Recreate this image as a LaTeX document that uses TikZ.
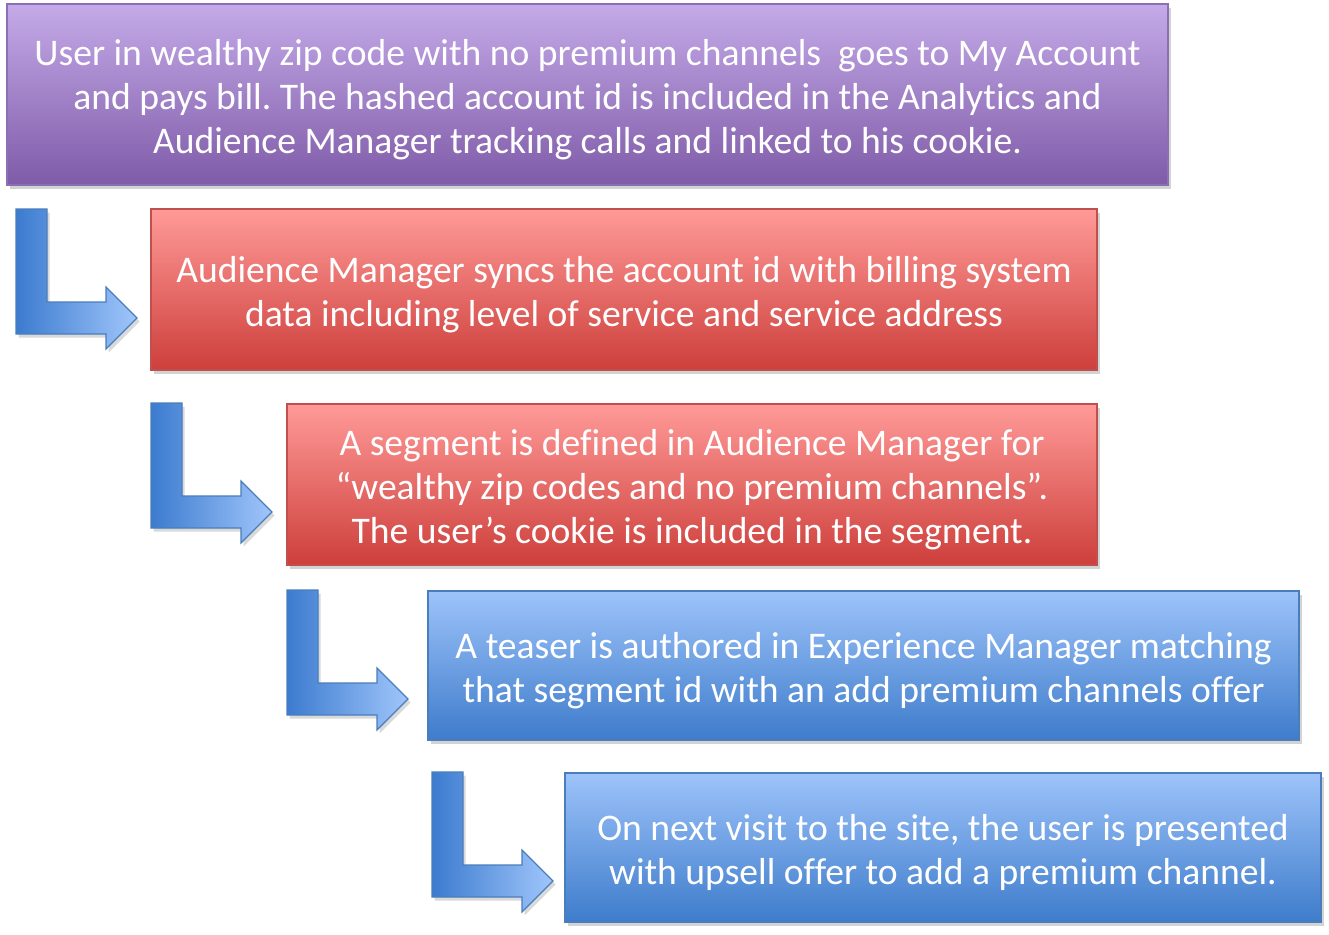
\documentclass[tikz,border=0pt]{standalone}
\usepackage{fontspec}
\setmainfont{Carlito}[Ligatures=NoCommon]
\usetikzlibrary{shadows}
\frenchspacing

\definecolor{purpletop}{HTML}{C4AAE8}
\definecolor{purplebot}{HTML}{7F5BA8}
\definecolor{purpleline}{HTML}{8B6FB5}
\definecolor{redtop}{HTML}{FF9A98}
\definecolor{redbot}{HTML}{CD3F3B}
\definecolor{redline}{HTML}{C0504D}
\definecolor{bluetop}{HTML}{9DC3FA}
\definecolor{bluebot}{HTML}{3E7CCB}
\definecolor{blueline}{HTML}{4A7EBB}
\definecolor{arrowdark}{HTML}{3C7BCF}
\definecolor{arrowlight}{HTML}{A0C6FB}

\newcommand{\padtop}{\rule{0pt}{21pt}}

\tikzset{
  stepbox/.style={draw,line width=0.8pt,text=white,align=center,
    font=\fontsize{21.4}{25}\selectfont,inner sep=0pt,
    drop shadow={shadow xshift=1.5pt,shadow yshift=-2pt,opacity=0.35}},
  purplebox/.style={stepbox,draw=purpleline,top color=purpletop,bottom color=purplebot},
  redbox/.style={stepbox,draw=redline,top color=redtop,bottom color=redbot},
  bluebox/.style={stepbox,draw=blueline,top color=bluetop,bottom color=bluebot},
  bent/.pic={
    \path [draw=blueline,line width=0.7pt,left color=arrowdark,right color=arrowlight,
      drop shadow={shadow xshift=1.5pt,shadow yshift=-2pt,opacity=0.3}]
      (0,0) -- (31,0) -- (31,93) -- (90,93) -- (90,78) -- (121,109)
      -- (90,140) -- (90,125) -- (0,125) -- cycle;
  }
}

\begin{document}
\begin{tikzpicture}[x=0.02cm,y=-0.02cm]

\useasboundingbox (0,0) rectangle (1329,934);

\node[purplebox,minimum width=23.22cm,minimum height=3.62cm] (login) at (587.5,94.5)
  {\padtop User in wealthy zip code with no premium channels\ \ goes to My Account\\
   and pays bill. The hashed account id is included in the Analytics and\\
   Audience Manager tracking calls and linked to his cookie.};

\node[redbox,minimum width=18.92cm,minimum height=3.22cm] (sync) at (624,289.5)
  {\padtop Audience Manager syncs the account id with billing system\\
   data including level of service and service address};

\node[redbox,minimum width=16.2cm,minimum height=3.22cm] (segment) at (692,484.5)
  {\padtop A segment is defined in Audience Manager for\\
   “wealthy zip codes and no premium channels”.\\
   The user’s cookie is included in the segment.};

\node[bluebox,minimum width=17.42cm,minimum height=2.98cm] (teaser) at (863.5,665.5)
  {\padtop A teaser is authored in Experience Manager matching\\
   that segment id with an add premium channels offer};

\node[bluebox,minimum width=15.12cm,minimum height=2.98cm] (offer) at (943,847.5)
  {\padtop On next visit to the site, the user is presented\\
   with upsell offer to add a premium channel.};

\pic at (16,209) {bent};
\pic at (151,403) {bent};
\pic at (287,590) {bent};
\pic at (432,772) {bent};

\end{tikzpicture}
\end{document}
